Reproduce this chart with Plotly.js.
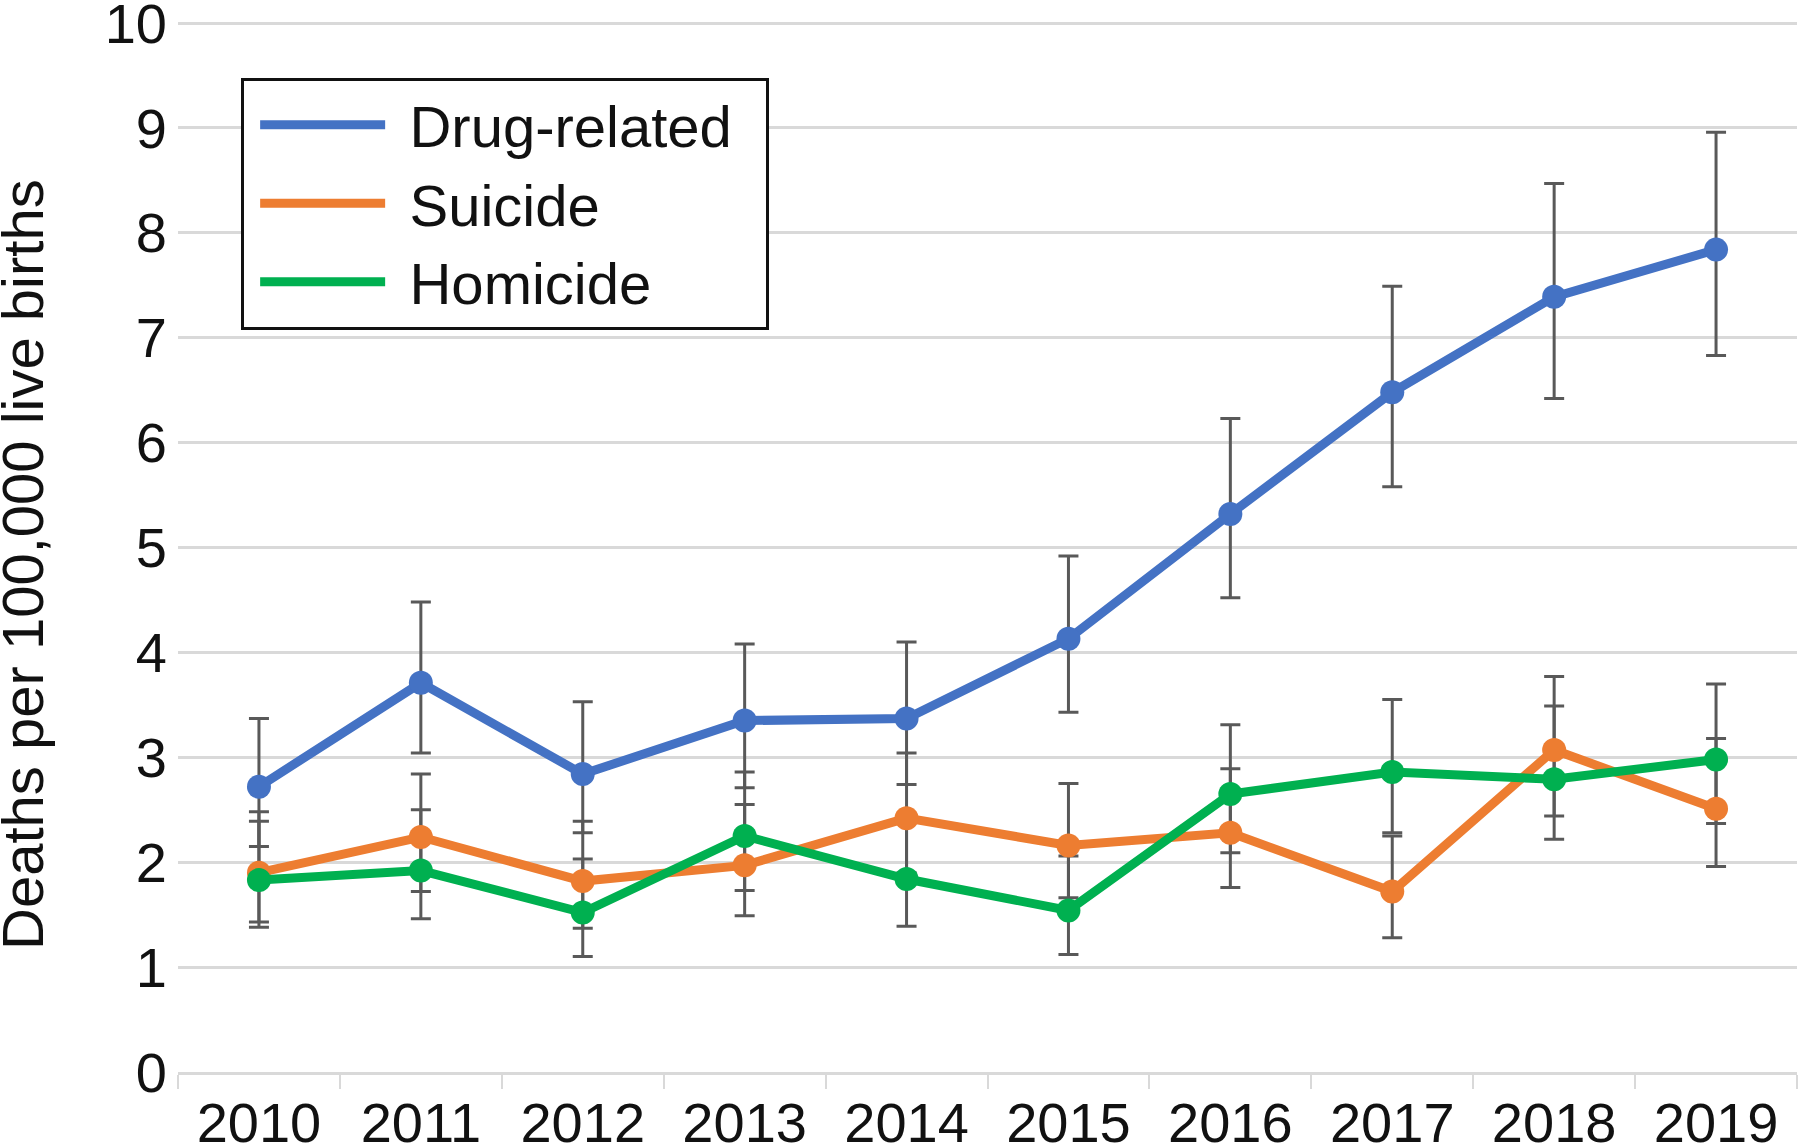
<!DOCTYPE html>
<html>
<head>
<meta charset="utf-8">
<script src="https://cdn.plot.ly/plotly-3.0.1.min.js"></script>
<style>
  html, body { margin: 0; padding: 0; background: #fff; }
  #myDiv { width: 1800px; height: 1146px; }
</style>
</head>
<body>
<div id="myDiv"></div>
<script>
var years = ['2010', '2011', '2012', '2013', '2014', '2015', '2016', '2017', '2018', '2019'];

var drug = [2.72, 3.71, 2.84, 3.35, 3.37, 4.13, 5.32, 6.48, 7.39, 7.84];
var drugLo = [2.15, 3.04, 2.28, 2.71, 2.74, 3.43, 4.52, 5.58, 6.42, 6.83];
var drugHi = [3.37, 4.48, 3.53, 4.08, 4.10, 4.92, 6.23, 7.49, 8.47, 8.96];

var suicide = [1.90, 2.24, 1.82, 1.97, 2.42, 2.16, 2.28, 1.72, 3.07, 2.51];
var suicideLo = [1.43, 1.72, 1.37, 1.49, 1.90, 1.66, 1.76, 1.28, 2.44, 1.96];
var suicideHi = [2.48, 2.84, 2.39, 2.55, 3.04, 2.75, 2.89, 2.25, 3.77, 3.18];

var homicide = [1.83, 1.92, 1.52, 2.25, 1.84, 1.54, 2.65, 2.86, 2.79, 2.98];
var homicideLo = [1.38, 1.46, 1.10, 1.73, 1.39, 1.12, 2.09, 2.28, 2.22, 2.37];
var homicideHi = [2.39, 2.50, 2.03, 2.86, 2.40, 2.06, 3.31, 3.55, 3.49, 3.70];

var series = [
  {name: 'Drug-related', y: drug, lo: drugLo, hi: drugHi, color: '#4472C4'},
  {name: 'Suicide', y: suicide, lo: suicideLo, hi: suicideHi, color: '#ED7D31'},
  {name: 'Homicide', y: homicide, lo: homicideLo, hi: homicideHi, color: '#00B050'}
];

var data = [];

// error bars first so the lines sit on top
series.forEach(function (s) {
  data.push({
    x: years, y: s.y, type: 'scatter', mode: 'markers',
    marker: {size: 2, color: 'rgba(0,0,0,0)'},
    showlegend: false, hoverinfo: 'skip',
    error_y: {
      type: 'data', symmetric: false,
      array: s.hi.map(function (v, i) { return v - s.y[i]; }),
      arrayminus: s.lo.map(function (v, i) { return s.y[i] - v; }),
      color: '#595959', thickness: 3, width: 10
    }
  });
});

// legend entries show only the line, so lines and markers are separate traces
series.forEach(function (s, k) {
  var label = '\u2004' + s.name + (k === 0 ? '\u2002' : '');
  data.push({
    x: years, y: s.y, type: 'scatter', mode: 'lines',
    name: label, legendgroup: s.name,
    line: {color: s.color, width: 9}
  });
  data.push({
    x: years, y: s.y, type: 'scatter', mode: 'markers',
    name: s.name, legendgroup: s.name, showlegend: false,
    marker: {color: s.color, size: 24}
  });
});

var layout = {
  width: 1800, height: 1146,
  margin: {l: 178, r: 3, t: 22, b: 74},
  paper_bgcolor: '#fff', plot_bgcolor: '#fff',
  font: {family: 'Arial, "Liberation Sans", sans-serif', size: 56, color: '#111'},
  showlegend: true,
  legend: {
    x: 0.039, y: 0.947, xanchor: 'left', yanchor: 'top',
    bordercolor: '#111', borderwidth: 3, bgcolor: '#fff',
    font: {size: 58, color: '#111'},
    itemwidth: 125, indentation: 11, tracegroupgap: 0
  },
  xaxis: {
    type: 'category', range: [-0.5, 9.5],
    showgrid: false, zeroline: false,
    showline: true, linecolor: '#D9D9D9', linewidth: 3,
    ticks: 'outside', tickson: 'boundaries', ticklen: 14, tickwidth: 2, tickcolor: '#D9D9D9',
    ticklabelstandoff: 0,
    tickfont: {size: 56, color: '#111'}
  },
  yaxis: {
    range: [0, 10.01], dtick: 1, tick0: 0,
    showgrid: true, gridcolor: '#D9D9D9', gridwidth: 3,
    zeroline: false, showline: false, ticks: '',
    ticklabelstandoff: 10, ticklabeloverflow: 'allow',
    tickfont: {size: 56, color: '#111'}
  },
  annotations: [{
    text: 'Deaths per 100,000 live births',
    xref: 'paper', yref: 'paper', x: -0.0957, y: 0.483,
    xanchor: 'center', yanchor: 'middle', textangle: -90,
    showarrow: false, font: {size: 58, color: '#111'}
  }]
};

Plotly.newPlot('myDiv', data, layout, {staticPlot: true});
</script>
</body>
</html>
